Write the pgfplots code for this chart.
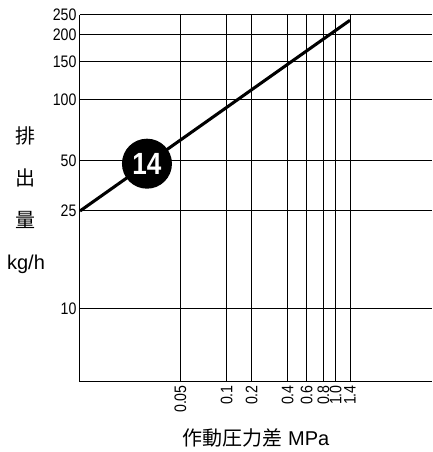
\documentclass[border=0pt]{standalone}
\usepackage{fontspec}
\setmainfont{Liberation Sans}
\newfontfamily\narrowfont{Liberation Sans}[FakeStretch=0.85]
\newfontfamily\cjk{Noto Sans CJK JP}
\usepackage{pgfplots}
\pgfplotsset{compat=1.18}

% the printed grid is only roughly logarithmic: map values piecewise (log)
% onto the positions (px from the lower left corner)
\newcommand\pwseg[5]{\pgfmathparse{#4+(#5-#4)*ln(#1/#2)/ln(#3/#2)}}
\newcommand\xmap[1]{%
  \ifdim#1pt<0.05pt \pwseg{#1}{0.01}{0.05}{0}{100.3}\else
  \ifdim#1pt<0.1pt \pwseg{#1}{0.05}{0.1}{100.3}{146.7}\else
  \ifdim#1pt<0.2pt \pwseg{#1}{0.1}{0.2}{146.7}{171.7}\else
  \ifdim#1pt<0.4pt \pwseg{#1}{0.2}{0.4}{171.7}{207.5}\else
  \ifdim#1pt<0.6pt \pwseg{#1}{0.4}{0.6}{207.5}{226.7}\else
  \ifdim#1pt<0.8pt \pwseg{#1}{0.6}{0.8}{226.7}{243.3}\else
  \ifdim#1pt<1.0pt \pwseg{#1}{0.8}{1.0}{243.3}{255.5}\else
  \ifdim#1pt<1.4pt \pwseg{#1}{1.0}{1.4}{255.5}{270}\else
  \pwseg{#1}{1.4}{3}{270}{352}\fi\fi\fi\fi\fi\fi\fi\fi}
\newcommand\ymap[1]{%
  \ifdim#1pt<10pt \pwseg{#1}{5}{10}{0}{73}\else
  \ifdim#1pt<25pt \pwseg{#1}{10}{25}{73}{170.7}\else
  \ifdim#1pt<50pt \pwseg{#1}{25}{50}{170.7}{220.7}\else
  \ifdim#1pt<100pt \pwseg{#1}{50}{100}{220.7}{282.4}\else
  \ifdim#1pt<150pt \pwseg{#1}{100}{150}{282.4}{320.4}\else
  \ifdim#1pt<200pt \pwseg{#1}{150}{200}{320.4}{347}\else
  \pwseg{#1}{200}{250}{347}{367}\fi\fi\fi\fi\fi\fi}
% input may arrive as plain number or in fpu format
\newcommand\applymap[2]{%
  \begingroup
  \pgfmathfloatparsenumber{#2}\pgfmathfloattofixed{\pgfmathresult}%
  \edef\inval{\pgfmathresult}%
  \pgfkeys{/pgf/fpu=false}#1{\inval}%
  \global\let\trafores\pgfmathresult
  \endgroup\let\pgfmathresult\trafores}

\begin{document}
\begin{tikzpicture}
\begin{axis}[
    scale only axis,
    width=264pt, height=275.25pt,
    xmin=0.01, xmax=3, ymin=5, ymax=250,
    x coord trafo/.code={\applymap\xmap{#1}},
    y coord trafo/.code={\applymap\ymap{#1}},
    axis lines*=left,
    axis line style={line width=0.75pt},
    grid=major,
    grid style={black, line width=0.75pt},
    major tick length=0pt,
    xtick={0.05,0.1,0.2,0.4,0.6,0.8,1.0,1.4},
    xticklabels={0.05,0.1,0.2,0.4,0.6,0.8,1.0,1.4},
    ytick={10,25,50,100,150,200,250},
    yticklabels={10,25,50,100,150,200,250},
    ticklabel style={font=\narrowfont\fontsize{12.5}{13}\selectfont},
    yticklabel style={inner sep=2.5pt},
    xticklabel style={rotate=90, anchor=east, inner sep=2.5pt},
    xlabel={{\cjk 作動圧力差} MPa},
    xlabel style={font=\fontsize{15}{18}\selectfont,
      at={(rel axis cs:0.5,0)}, anchor=center, yshift=-42pt},
    ylabel={\begin{tabular}{c}{\cjk 排}\\{\cjk 出}\\{\cjk 量}\\kg/h\end{tabular}},
    ylabel style={font=\fontsize{15}{31.5}\selectfont, rotate=-90,
      at={(rel axis cs:0,0.5)}, anchor=center, xshift=-40.5pt},
    clip=false,
]
\addplot[black, line width=2.3pt] coordinates {(0.01,25) (1.4,235)}
  node[pos=0.248, circle, fill=black, minimum size=37.5pt, inner sep=0pt,
       text=white, font=\narrowfont\bfseries\fontsize{23}{23}\selectfont] {14};
\end{axis}
\pgfresetboundingbox
\useasboundingbox (-60pt,-52.725pt) rectangle (264pt,286.275pt);
\end{tikzpicture}
\end{document}
